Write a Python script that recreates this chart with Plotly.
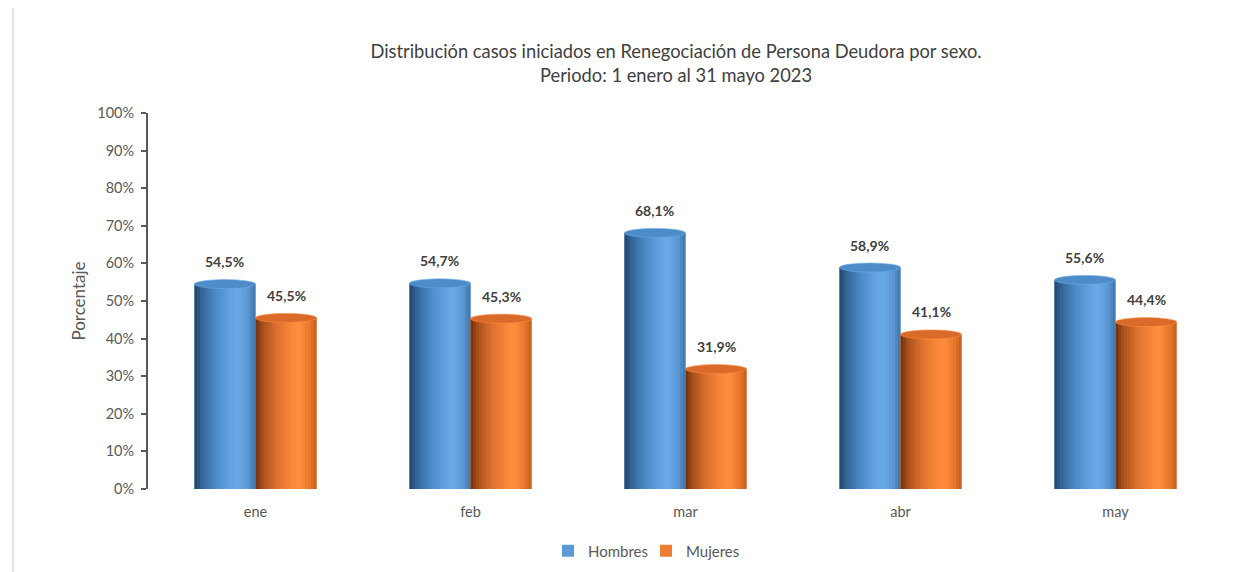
import plotly.graph_objects as go

months = ["ene", "feb", "mar", "abr", "may"]
hombres = [54.5, 54.7, 68.1, 58.9, 55.6]
mujeres = [45.5, 45.3, 31.9, 41.1, 44.4]
series_names = ["Hombres", "Mujeres"]
y_ticks = [0, 10, 20, 30, 40, 50, 60, 70, 80, 90, 100]
y_tick_labels = ["0%", "10%", "20%", "30%", "40%", "50%", "60%", "70%", "80%", "90%", "100%"]

FONT = "Lato"
TXT = "#404040"
GRAY = "#595959"

BLUE_STOPS = [(0.0, "#21446a"), (0.12, "#346699"), (0.35, "#4d8bc8"),
              (0.6, "#63a3e2"), (0.72, "#6aaae9"), (0.88, "#5a97d2"), (1.0, "#3f74a8")]
ORANGE_STOPS = [(0.0, "#6e2f0e"), (0.12, "#a9501b"), (0.35, "#de7130"),
                (0.6, "#fa883a"), (0.72, "#ff8e3e"), (0.88, "#ea782c"), (1.0, "#c05e20")]
BASE_COLORS = ["#5b9bd5", "#ed7d31"]
CAP_COLORS = ["#4e8bc9", "#d96a2a"]

BAR_W = 0.284
N_STRIPS = 22


def hex2rgb(h):
    h = h.lstrip("#")
    return tuple(int(h[i:i + 2], 16) for i in (0, 2, 4))


def grad(stops, t):
    for (t0, c0), (t1, c1) in zip(stops[:-1], stops[1:]):
        if t0 <= t <= t1:
            f = (t - t0) / (t1 - t0) if t1 > t0 else 0
            a, b = hex2rgb(c0), hex2rgb(c1)
            return "rgb(%d,%d,%d)" % tuple(round(a[i] + (b[i] - a[i]) * f) for i in range(3))
    return stops[-1][1]


def fmt(v):
    return ("%.1f%%" % v).replace(".", ",")


# page has an 8px body margin; figure placed so plot area matches reference
OFF = 8
W, H = 1254 - OFF, 572 - OFF
L, R, T, B = 148 - OFF, 31, 113 - OFF, 83
pw, ph = W - L - R, H - T - B
CAP_H = 4.5 / ph * 100  # half-height of the cylinder top ellipse, in axis units

fig = go.Figure()

legend_ids = ["legend", "legend2"]
for s, (name, vals, stops, base_col, off) in enumerate([
        ("Hombres", hombres, BLUE_STOPS, BASE_COLORS[0], -BAR_W),
        ("Mujeres", mujeres, ORANGE_STOPS, BASE_COLORS[1], 0.0)]):
    fig.add_trace(go.Bar(
        x=months, y=vals, name=name, width=BAR_W, offset=off,
        marker=dict(color=base_col, line=dict(width=0)),
        hoverinfo="skip", showlegend=True, legendgroup=name, legend=legend_ids[s]))
    sw = BAR_W / N_STRIPS
    for i in range(N_STRIPS):
        t = (i + 0.5) / N_STRIPS
        w = sw * 1.4 if i < N_STRIPS - 1 else sw
        fig.add_trace(go.Bar(
            x=months, y=vals, width=w, offset=off + i * sw,
            marker=dict(color=grad(stops, t), line=dict(width=0)),
            showlegend=False, legendgroup=name, hoverinfo="skip"))
    for k, v in enumerate(vals):
        fig.add_shape(type="circle", xref="x", yref="y",
                      x0=k + off, x1=k + off + BAR_W,
                      y0=v - CAP_H, y1=v + CAP_H,
                      fillcolor=CAP_COLORS[s], line=dict(width=0.6, color=grad(stops, 0.7)),
                      layer="above")
        fig.add_annotation(
            x=k + off + BAR_W / 2, y=v, xref="x", yref="y",
            text="<b>%s</b>" % fmt(v), showarrow=False,
            yanchor="bottom", yshift=12,
            font=dict(family=FONT, size=14, color=TXT))

fig.add_shape(type="rect", xref="paper", yref="paper",
              x0=(13 - OFF - L) / pw, x1=(W + 20 - L) / pw,
              y0=-(B + 20) / ph, y1=(H - B - (7 - OFF)) / ph,
              line=dict(color="#d9d9d9", width=1.5), fillcolor="rgba(0,0,0,0)", layer="below")

leg_common = dict(orientation="h", xanchor="left",
                  y=-(551 - OFF - (H - B)) / ph, yanchor="middle",
                  bgcolor="rgba(0,0,0,0)",
                  font=dict(family=FONT, size=15, color=GRAY), itemwidth=30)

fig.update_layout(
    width=W, height=H,
    margin=dict(l=L, r=R, t=T, b=B, autoexpand=False),
    paper_bgcolor="white", plot_bgcolor="white",
    barmode="overlay",
    font=dict(family=FONT, color=GRAY, size=14),
    title=dict(
        text="Distribución casos iniciados en Renegociación de Persona Deudora por sexo.<br>Periodo: 1 enero al 31 mayo 2023",
        x=(676 - OFF - L) / pw, xref="paper", xanchor="center",
        y=1 - 50 / H, yanchor="middle",
        font=dict(family=FONT, size=18.3, color=TXT)),
    xaxis=dict(type="category", range=[-0.5, 4.5], showline=False, showgrid=False,
               ticks="outside", ticklen=10, tickcolor="rgba(0,0,0,0)",
               tickfont=dict(family=FONT, size=14.5, color=GRAY)),
    yaxis=dict(range=[0, 100], tickvals=y_ticks, ticktext=y_tick_labels,
               showgrid=False, zeroline=False, showline=True,
               linecolor=GRAY, linewidth=2, ticks="outside", ticklen=5,
               tickcolor=GRAY, tickwidth=1.5, ticklabelstandoff=4,
               tickfont=dict(family=FONT, size=14.5, color=GRAY),
               title=dict(text="Porcentaje", standoff=7,
                          font=dict(family=FONT, size=17, color=GRAY))),
    legend=dict(x=(548 - OFF - L) / pw, **leg_common),
    legend2=dict(x=(646 - OFF - L) / pw, **leg_common),
)

fig.write_html("out.html")
